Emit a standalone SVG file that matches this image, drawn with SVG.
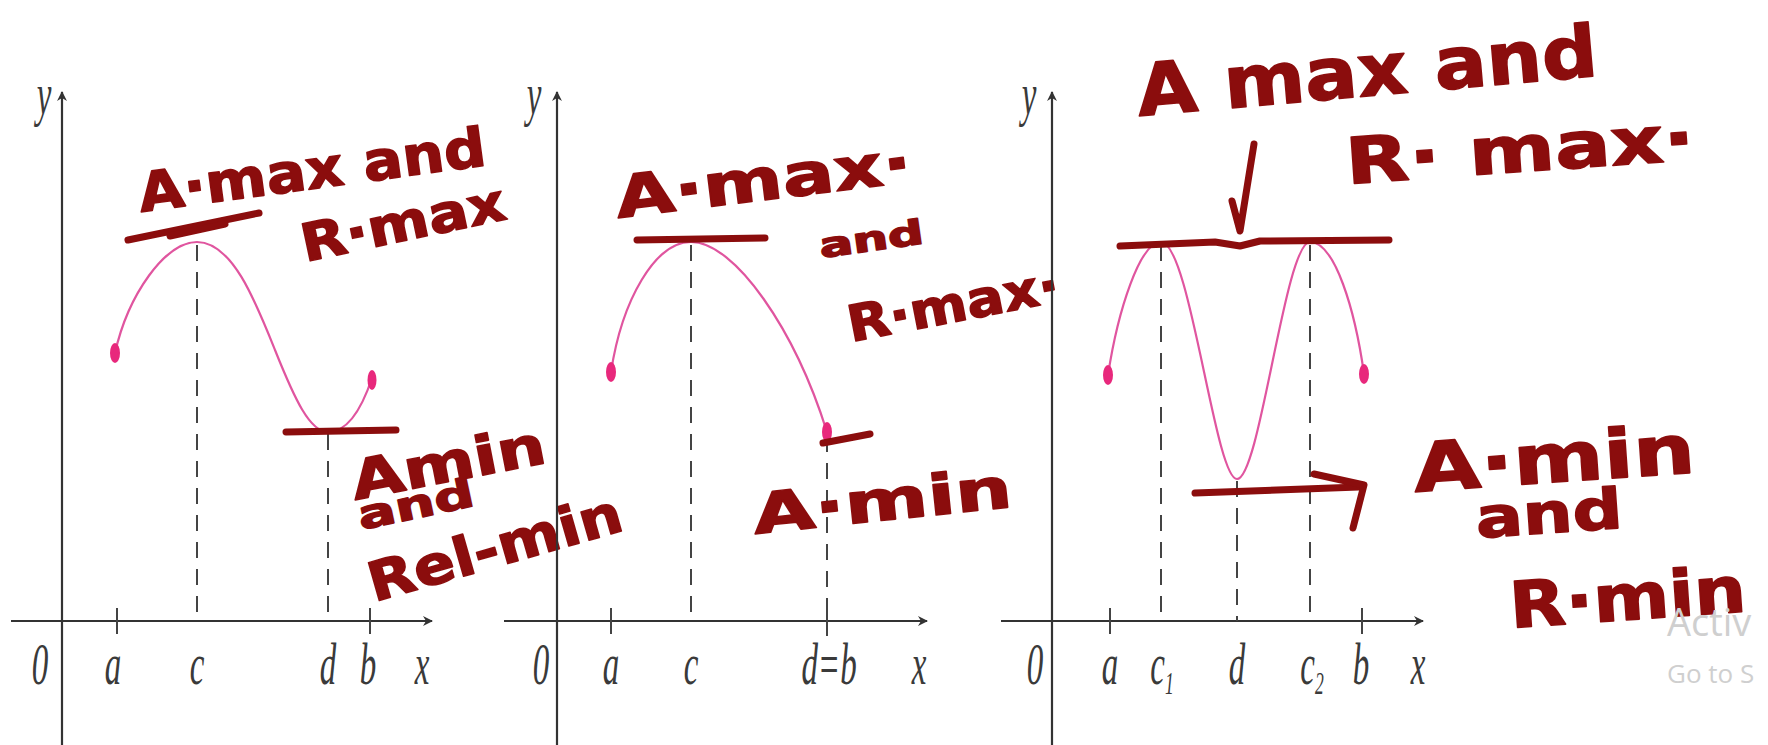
<svg xmlns="http://www.w3.org/2000/svg" width="1768" height="745" viewBox="0 0 1768 745">
<defs>
<style>
.axis{stroke:#333;stroke-width:2.2;fill:none}
.tick{stroke:#444;stroke-width:2;fill:none}
.dash{stroke:#444;stroke-width:2;fill:none;stroke-dasharray:16 11}
.curve{stroke:#e0559f;stroke-width:2.2;fill:none}
.dot{fill:#e8287c}
.lab{font-family:"Liberation Serif",serif;font-style:italic;font-size:60px;fill:#3a3a3a;text-anchor:middle}
.ink{stroke:#8b0d0d;stroke-width:7;fill:none;stroke-linecap:round;stroke-linejoin:round}
.hw{font-family:"DejaVu Sans",sans-serif;font-weight:bold;fill:#8b0d0d;stroke:#8b0d0d;stroke-width:1.5;stroke-linejoin:round}
.wm{font-family:"Open Sans","Noto Sans",sans-serif;fill:#cfcfcf}
</style>
<marker id="ah" viewBox="0 0 10 10" refX="9" refY="5" markerWidth="10" markerHeight="10" markerUnits="userSpaceOnUse" orient="auto"><path d="M0,0 L10,5 L0,10 L3,5 Z" fill="#333"/></marker>
</defs>
<rect width="1768" height="745" fill="#ffffff"/>

<g id="graph1">
<line class="axis" x1="62" y1="745" x2="62" y2="92" marker-end="url(#ah)"/>
<line class="axis" x1="11" y1="621" x2="432" y2="621" marker-end="url(#ah)"/>
<line class="tick" x1="117" y1="608" x2="117" y2="634"/>
<line class="tick" x1="370" y1="608" x2="370" y2="634"/>
<line class="dash" x1="197" y1="245" x2="197" y2="621"/>
<line class="dash" x1="328" y1="434" x2="328" y2="621"/>
<path class="curve" d="M115,353 C128,295 165,242 197,242 C232,242 255,300 275,350 C295,400 310,432 328,432 C348,432 362,408 372,378"/>
<ellipse class="dot" cx="115" cy="353" rx="5" ry="10"/>
<ellipse class="dot" cx="372" cy="380" rx="4.5" ry="10"/>
<text class="lab" transform="translate(40,684) scale(0.55,1)">0</text>
<text class="lab" transform="translate(113,684) scale(0.55,1)">a</text>
<text class="lab" transform="translate(197,684) scale(0.55,1)">c</text>
<text class="lab" transform="translate(328,684) scale(0.55,1)">d</text>
<text class="lab" transform="translate(368,684) scale(0.55,1)">b</text>
<text class="lab" transform="translate(422,684) scale(0.55,1)">x</text>
<text class="lab" transform="translate(44,114) scale(0.55,1)" font-size="46">y</text>
<path class="ink" d="M128,240 L259,213"/>
<path class="ink" stroke-width="9" d="M170,236 L225,224"/>
<path class="ink" d="M286,432 L396,430"/>
<text class="hw" x="141" y="212" font-size="54" textLength="350" lengthAdjust="spacingAndGlyphs" transform="rotate(-7.7 141 212)">A·max and</text>
<text class="hw" x="305" y="262" font-size="52" textLength="208" lengthAdjust="spacingAndGlyphs" transform="rotate(-12 305 262)">R·max</text>
<text class="hw" x="355" y="500" font-size="54" textLength="197" lengthAdjust="spacingAndGlyphs" transform="rotate(-11 355 500)">Amin</text>
<text class="hw" x="361" y="530" font-size="40" textLength="118" lengthAdjust="spacingAndGlyphs" transform="rotate(-12 361 530)">and</text>
<text class="hw" x="374" y="602" font-size="54" textLength="262" lengthAdjust="spacingAndGlyphs" transform="rotate(-16 374 602)">Rel-min</text>
</g>

<g id="graph2">
<line class="axis" x1="557" y1="745" x2="557" y2="92" marker-end="url(#ah)"/>
<line class="axis" x1="504" y1="621" x2="927" y2="621" marker-end="url(#ah)"/>
<line class="tick" x1="611" y1="608" x2="611" y2="634"/>
<line class="tick" x1="827" y1="608" x2="827" y2="636"/>
<line class="dash" x1="691" y1="245" x2="691" y2="621"/>
<line class="dash" x1="827" y1="436" x2="827" y2="621"/>
<path class="curve" d="M611,372 C622,300 655,242 691,242 C735,242 795,330 827,432"/>
<ellipse class="dot" cx="611" cy="372" rx="5" ry="10"/>
<ellipse class="dot" cx="827" cy="432" rx="5" ry="10"/>
<text class="lab" transform="translate(541,684) scale(0.55,1)">0</text>
<text class="lab" transform="translate(611,684) scale(0.55,1)">a</text>
<text class="lab" transform="translate(691,684) scale(0.55,1)">c</text>
<text class="lab" transform="translate(829,684) scale(0.55,1)">d=b</text>
<text class="lab" transform="translate(919,684) scale(0.55,1)">x</text>
<text class="lab" transform="translate(534,114) scale(0.55,1)" font-size="46">y</text>
<path class="ink" d="M637,240 L765,238"/>
<path class="ink" d="M823,443 L870,434"/>
<text class="hw" x="618" y="218" font-size="58" textLength="298" lengthAdjust="spacingAndGlyphs" transform="rotate(-7 618 218)">A·max·</text>
<text class="hw" x="821" y="258" font-size="34" textLength="105" lengthAdjust="spacingAndGlyphs" transform="rotate(-8 821 258)">and</text>
<text class="hw" x="851" y="342" font-size="50" textLength="215" lengthAdjust="spacingAndGlyphs" transform="rotate(-11 851 342)">R·max·</text>
<text class="hw" x="755" y="534" font-size="56" textLength="260" lengthAdjust="spacingAndGlyphs" transform="rotate(-6 755 534)">A·min</text>
</g>

<g id="graph3">
<line class="axis" x1="1052" y1="745" x2="1052" y2="92" marker-end="url(#ah)"/>
<line class="axis" x1="1001" y1="621" x2="1423" y2="621" marker-end="url(#ah)"/>
<line class="tick" x1="1110" y1="608" x2="1110" y2="634"/>
<line class="tick" x1="1362" y1="608" x2="1362" y2="634"/>
<line class="dash" x1="1161" y1="245" x2="1161" y2="621"/>
<line class="dash" x1="1237" y1="481" x2="1237" y2="621"/>
<line class="dash" x1="1310" y1="245" x2="1310" y2="621"/>
<path class="curve" d="M1108,375 C1118,310 1140,242 1161,242 C1190,242 1215,479 1237,479 C1260,479 1285,242 1310,242 C1335,242 1355,310 1364,374"/>
<ellipse class="dot" cx="1108" cy="375" rx="5" ry="10"/>
<ellipse class="dot" cx="1364" cy="374" rx="5" ry="10"/>
<text class="lab" transform="translate(1035,684) scale(0.55,1)">0</text>
<text class="lab" transform="translate(1110,684) scale(0.55,1)">a</text>
<text class="lab" transform="translate(1162,684) scale(0.55,1)">c<tspan font-size="32" dy="10">1</tspan></text>
<text class="lab" transform="translate(1237,684) scale(0.55,1)">d</text>
<text class="lab" transform="translate(1312,684) scale(0.55,1)">c<tspan font-size="32" dy="10">2</tspan></text>
<text class="lab" transform="translate(1361,684) scale(0.55,1)">b</text>
<text class="lab" transform="translate(1418,684) scale(0.55,1)">x</text>
<text class="lab" transform="translate(1029,114) scale(0.55,1)" font-size="46">y</text>
<path class="ink" d="M1120,246 L1215,242 L1240,246 L1260,241 L1389,240"/>
<path class="ink" d="M1232,201 L1240,231 L1254,144"/>
<text class="hw" x="1139" y="116" font-size="72" textLength="462" lengthAdjust="spacingAndGlyphs" transform="rotate(-5 1139 116)">A max and</text>
<text class="hw" x="1347" y="184" font-size="64" textLength="350" lengthAdjust="spacingAndGlyphs" transform="rotate(-4 1347 184)">R· max·</text>
<text class="hw" x="1415" y="492" font-size="68" textLength="282" lengthAdjust="spacingAndGlyphs" transform="rotate(-4 1415 492)">A·min</text>
<text class="hw" x="1477" y="538" font-size="56" textLength="147" lengthAdjust="spacingAndGlyphs" transform="rotate(-4 1477 538)">and</text>
<text class="hw" x="1511" y="628" font-size="64" textLength="237" lengthAdjust="spacingAndGlyphs" transform="rotate(-4 1511 628)">R·min</text>
</g>

<g id="connectors">
<path class="ink" d="M1195,493 L1359,487"/>
<path class="ink" d="M1314,474 L1364,485 L1353,528"/>
</g>

<g id="watermark">
<text class="wm" x="1667" y="636" font-size="38">Activ</text>
<text class="wm" x="1667" y="683" font-size="26">Go to S</text>
</g>
</svg>
